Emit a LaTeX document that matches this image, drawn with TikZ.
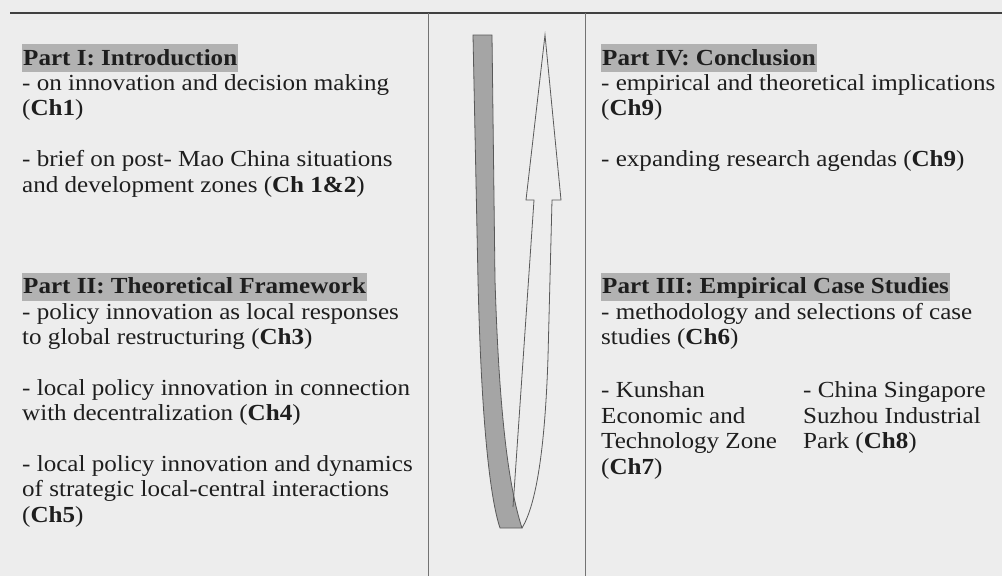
\documentclass[tikz,border=0pt]{standalone}
\usepackage{fontspec}
\setmainfont{Liberation Serif}[FakeStretch=1.09]
\definecolor{scanbg}{RGB}{237,237,237}
\definecolor{headgray}{RGB}{178,178,178}
\definecolor{ribbongray}{RGB}{165,165,165}
\definecolor{inkgray}{RGB}{30,30,30}

\begin{document}
\begin{tikzpicture}[
  x=1pt, y=-1pt,
  parthead/.style={fill=headgray, inner xsep=1pt, inner ysep=0pt, text height=21pt, text depth=7pt, anchor=base west, font=\fontsize{23}{25.4}\selectfont\bfseries, text=inkgray},
  bodytext/.style={inner sep=0pt, anchor=base west, align=left, font=\fontsize{23}{25.4}\selectfont, text=inkgray},
  toprule/.style={draw=black!75, line width=1.2pt},
  divider/.style={draw=black!55, line width=0.7pt},
]
  % Page
  \fill[scanbg] (0,0) rectangle (1002,576);
  \useasboundingbox (0,0) rectangle (1002,576);
  \draw[toprule] (10,13) -- (1002,13);
  \draw[divider] (428,13) -- (428,576);
  \draw[divider] (585,13) -- (585,576);

  % Left column (body nodes sit on the baseline of their last line)
  \node[parthead] (intro) at (22,65) {Part I: Introduction};
  \node[bodytext] (introA) at (22,115.8) {- on innovation and decision making\\(\textbf{Ch1})};
  \node[bodytext] (introB) at (22,192) {- brief on post- Mao China situations\\and development zones (\textbf{Ch 1\&2})};

  \node[parthead] (theory) at (22,293.6) {Part II: Theoretical Framework};
  \node[bodytext] (theoryA) at (22,344.4) {- policy innovation as local responses\\to global restructuring (\textbf{Ch3})};
  \node[bodytext] (theoryB) at (22,420.6) {- local policy innovation in connection\\with decentralization (\textbf{Ch4})};
  \node[bodytext] (theoryC) at (22,522.2) {- local policy innovation and dynamics\\of strategic local-central interactions\\(\textbf{Ch5})};

  % Right column
  \node[parthead] (concl) at (601,65) {Part IV: Conclusion};
  \node[bodytext] (conclA) at (601,115.8) {- empirical and theoretical implications\\(\textbf{Ch9})};
  \node[bodytext] (conclB) at (601,166.6) {- expanding research agendas (\textbf{Ch9})};

  \node[parthead] (cases) at (601,293.6) {Part III: Empirical Case Studies};
  \node[bodytext] (casesA) at (601,344.4) {- methodology and selections of case\\studies (\textbf{Ch6})};
  \node[bodytext] (kunshan) at (601,474) {- Kunshan\\Economic and\\Technology Zone\\(\textbf{Ch7})};
  \node[bodytext] (suzhou) at (803,448.6) {- China Singapore\\Suzhou Industrial\\Park (\textbf{Ch8})};

  % Ribbon arrow
  \filldraw[fill=ribbongray, draw=black!65, line width=0.8pt]
    (473,35) -- (492,35) -- (495,280) .. controls (499,410) and (508,485) .. (522,528)
    -- (500,528) .. controls (489,495) and (481,410) .. (478,280) -- cycle;
  \draw[black!65, line width=0.8pt]
    (513,507) -- (534,200) -- (526,200) -- (545,35) -- (561,200) -- (552,200)
    -- (548,357) .. controls (545,450) and (536,505) .. (522,528);
\end{tikzpicture}
\end{document}
